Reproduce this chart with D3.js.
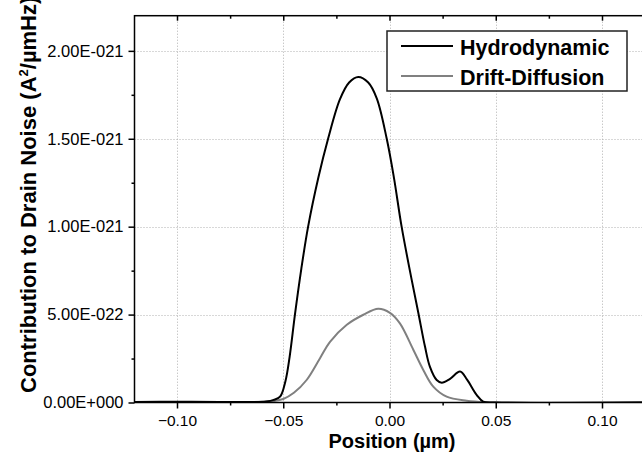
<!DOCTYPE html>
<html>
<head>
<meta charset="utf-8">
<script src="https://cdn.jsdelivr.net/npm/d3@7"></script>
<style>
  body { margin: 0; background: #fff; }
  svg { display: block; }
  svg text { font-family: "Liberation Sans", Arial, sans-serif; }
</style>
</head>
<body>
<div id="chart"></div>
<script>
// values in units of 1e-21 A^2/umHz
const hydroX = [-0.12, -0.10, -0.08, -0.065, -0.058, -0.0545, -0.0515, -0.049, -0.047, -0.0445, -0.0415, -0.0383, -0.0335,
  -0.0289, -0.0233, -0.0190, -0.0147, -0.0100, -0.0060, -0.0013, 0.0021, 0.0057, 0.0104, 0.0136, 0.0167,
  0.019, 0.0222, 0.0246, 0.0285, 0.0332, 0.0365, 0.041, 0.0441, 0.05, 0.12];
const hydroY = [0.003, 0.004, 0.003, 0.003, 0.006, 0.015, 0.033, 0.12, 0.26, 0.5, 0.76, 1.0, 1.278,
  1.5, 1.725, 1.82, 1.852, 1.82, 1.73, 1.5, 1.278, 1.0, 0.70, 0.508, 0.318,
  0.204, 0.128, 0.113, 0.135, 0.176, 0.13, 0.043, 0.005, 0.0, 0.0];

const driftX = [-0.12, -0.07, -0.06, -0.055, -0.05, -0.045, -0.039, -0.0327, -0.028, -0.0201, -0.0123,
  -0.0053, 0.0002, 0.0049, 0.0112, 0.0159, 0.0206, 0.0269, 0.0363, 0.045, 0.12];
const driftY = [0.002, 0.002, 0.004, 0.008, 0.02, 0.055, 0.128, 0.252, 0.345, 0.442, 0.499,
  0.533, 0.51, 0.45, 0.3, 0.185, 0.09, 0.033, 0.01, 0.002, 0.002];

const xMajor = [-0.10, -0.05, 0.00, 0.05, 0.10];
const xMinor = [-0.075, -0.025, 0.025, 0.075];
const yMajor = [0, 0.5, 1.0, 1.5, 2.0];
const yMinor = [0.25, 0.75, 1.25, 1.75];

const series = [
  { name: "Hydrodynamic", color: "#000000", xs: hydroX, ys: hydroY },
  { name: "Drift-Diffusion", color: "#808080", xs: driftX, ys: driftY }
];

const width = 642, height = 453;
const margin = { left: 134.5, top: 15.7, right: -2.5, bottom: 50.5 };

const x = d3.scaleLinear().domain([-0.12, 0.12]).range([margin.left, width - margin.right]);
const y = d3.scaleLinear().domain([0, 2.2]).range([height - margin.bottom, margin.top]);

function sci(v) {
  if (v === 0) return "0.00E+000";
  const parts = (v * 1e-21).toExponential(2).split("e");
  const e = parseInt(parts[1], 10);
  return parts[0] + "E" + (e < 0 ? "-" : "+") + String(Math.abs(e)).padStart(3, "0");
}

const svg = d3.select("#chart").append("svg")
  .attr("width", width)
  .attr("height", height);

svg.append("defs").append("clipPath").attr("id", "clip")
  .append("rect")
  .attr("x", x.range()[0]).attr("y", y.range()[1])
  .attr("width", x.range()[1] - x.range()[0])
  .attr("height", y.range()[0] - y.range()[1]);

// grid
const grid = svg.append("g").attr("stroke", "#b0b0b0").attr("stroke-dasharray", "1,2").attr("stroke-width", 1);
grid.selectAll(".gx").data(xMajor).enter().append("line")
  .attr("x1", d => Math.round(x(d)) + 0.5).attr("x2", d => Math.round(x(d)) + 0.5)
  .attr("y1", y.range()[1]).attr("y2", y.range()[0]);
grid.selectAll(".gy").data(yMajor.filter(d => d > 0)).enter().append("line")
  .attr("y1", d => Math.round(y(d)) + 0.5).attr("y2", d => Math.round(y(d)) + 0.5)
  .attr("x1", x.range()[0]).attr("x2", x.range()[1]);

// curves
const line = d3.line()
  .x(d => x(d[0]))
  .y(d => y(d[1]))
  .curve(d3.curveCatmullRom.alpha(0.5));

svg.append("g").attr("clip-path", "url(#clip)")
  .selectAll("path")
  .data(series.slice().reverse())
  .enter().append("path")
  .attr("d", s => line(s.xs.map((v, i) => [v, s.ys[i]])))
  .attr("fill", "none")
  .attr("stroke", s => s.color)
  .attr("stroke-width", 2);

// axes
function styleAxis(size) {
  return g => {
    g.attr("font-family", null).attr("font-size", null);
    g.select(".domain").remove();
    g.selectAll("line").attr("stroke", "#000").attr("stroke-width", 1.5);
    g.selectAll("text").attr("fill", "#000").style("font-size", size + "px");
  };
}

const xb = y.range()[0];
svg.append("g").attr("transform", `translate(0,${xb})`)
  .call(d3.axisBottom(x).tickValues(xMajor).tickSize(6).tickPadding(6).tickFormat(d3.format(".2f")))
  .call(styleAxis(15.5));
svg.append("g").attr("transform", `translate(0,${xb})`)
  .call(d3.axisBottom(x).tickValues(xMinor).tickSize(3).tickFormat(""))
  .call(styleAxis(15.5));
svg.append("g").attr("transform", `translate(0,${margin.top})`)
  .call(d3.axisBottom(x).tickValues(xMajor).tickSize(5).tickFormat(""))
  .call(styleAxis(15.5));
svg.append("g").attr("transform", `translate(0,${margin.top})`)
  .call(d3.axisBottom(x).tickValues(xMinor).tickSize(3).tickFormat(""))
  .call(styleAxis(15.5));

svg.append("g").attr("transform", `translate(${margin.left},0)`)
  .call(d3.axisLeft(y).tickValues(yMajor).tickSize(6).tickPadding(5).tickFormat(sci))
  .call(styleAxis(16.5));
svg.append("g").attr("transform", `translate(${margin.left},0)`)
  .call(d3.axisLeft(y).tickValues(yMinor).tickSize(3).tickFormat(""))
  .call(styleAxis(16.5));

// frame
svg.append("rect")
  .attr("x", x.range()[0]).attr("y", y.range()[1])
  .attr("width", x.range()[1] - x.range()[0])
  .attr("height", y.range()[0] - y.range()[1])
  .attr("fill", "none").attr("stroke", "#000").attr("stroke-width", 1.5);

// axis titles
svg.append("text")
  .attr("x", 392).attr("y", 448)
  .attr("text-anchor", "middle")
  .style("font-size", "20px").attr("font-weight", "bold")
  .text("Position (\u00b5m)");

const yt = svg.append("text")
  .attr("transform", "translate(36,393) rotate(-90)")
  .attr("text-anchor", "start")
  .style("font-size", "22px").attr("font-weight", "bold");
yt.append("tspan").text("Contribution to Drain Noise (A");
yt.append("tspan").style("font-size", "13px").attr("dy", -8).text("2");
yt.append("tspan").attr("dy", 8).text("/\u00b5mHz)");

// legend
const lg = svg.append("g");
lg.append("rect")
  .attr("x", 387).attr("y", 31).attr("width", 240).attr("height", 60)
  .attr("fill", "#fff").attr("stroke", "#222").attr("stroke-width", 1.5);
const items = lg.selectAll(".item").data(series).enter().append("g")
  .attr("transform", (d, i) => `translate(0,${46 + i * 30})`);
items.append("line")
  .attr("x1", 401).attr("x2", 453)
  .attr("stroke", d => d.color).attr("stroke-width", 2);
items.append("text")
  .attr("x", 460).attr("y", 8.5)
  .style("font-size", "21.5px").attr("font-weight", "bold")
  .text(d => d.name);
</script>
</body>
</html>
